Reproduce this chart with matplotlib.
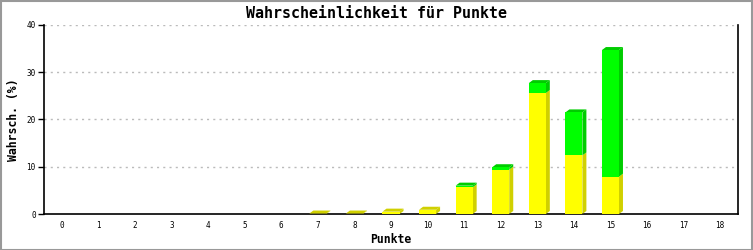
import matplotlib
matplotlib.use('Agg')
import matplotlib.pyplot as plt
from matplotlib.patches import Polygon, Rectangle
import numpy as np

# data
punkte = list(range(19))
gelb = [0, 0, 0, 0, 0, 0, 0, 0.1, 0.1, 0.5, 0.9, 5.65, 9.4, 25.6, 12.4, 7.9, 0, 0, 0]
gruen = [0, 0, 0, 0, 0, 0, 0, 0, 0, 0, 0, 0.35, 0.5, 2.1, 9.1, 26.8, 0, 0, 0]

title = "Wahrscheinlichkeit für Punkte"
xlabel = "Punkte"
ylabel = "Wahrsch. (%)"
yticks = [0, 10, 20, 30, 40]

plt.rcParams['font.family'] = ['DejaVu Sans Mono']
plt.rcParams['lines.scale_dashes'] = False

W, H = 753, 250
fig = plt.figure(figsize=(W / 100, H / 100), dpi=100)
left, right, bottom, top = 43.5, 738.5, 214, 25
ax = fig.add_axes([left / W, (H - bottom) / H, (right - left) / W, (bottom - top) / H])
ax.set_xlim(-0.5, 18.5)
ax.set_ylim(0, 40)

# pixel offsets of the 3d effect converted to data units
px_x = (right - left) / 19.0
px_y = (bottom - top) / 40.0
dx = 4 / px_x
dy = 3 / px_y
bw = 17 / px_x

colors = [("#ffff00", "#d0d000"), ("#00ff00", "#00cc00")]

for i, x in enumerate(punkte):
    segs = [gelb[i], gruen[i]]
    if sum(segs) <= 0:
        continue
    x0 = x - bw / 2
    x1 = x + bw / 2
    base = 0
    last = max(k for k, v in enumerate(segs) if v > 0)
    for k, v in enumerate(segs):
        if v <= 0:
            continue
        face, dark = colors[k]
        t = base + v
        ax.add_patch(Polygon([(x1, base), (x1 + dx, base + dy), (x1 + dx, t + dy), (x1, t)],
                             closed=True, facecolor=dark, edgecolor='none', zorder=3))
        ax.add_patch(Rectangle((x0, base), bw, v, facecolor=face, edgecolor='none', zorder=4))
        if k == last:
            ax.add_patch(Polygon([(x0, t), (x0 + dx, t + dy), (x1 + dx, t + dy), (x1, t)],
                                 closed=True, facecolor=dark, edgecolor='none', zorder=3))
        base = t

for yv in yticks[1:]:
    ax.axhline(yv, color="#bbbbbb", lw=1, dashes=(1.5, 3), zorder=1)

ax.set_xticks(punkte)
ax.set_xticklabels([str(p) for p in punkte])
ax.set_yticks(yticks)
ax.tick_params(axis='x', length=0, pad=5, labelsize=5.5)
ax.tick_params(axis='y', length=4, width=1, pad=1.5, labelsize=5.5)
for s in ['left', 'bottom', 'right']:
    ax.spines[s].set_linewidth(1.2)
ax.spines['top'].set_visible(False)

ax.set_xlabel(xlabel, fontsize=8.3, fontweight='bold', labelpad=2)
ax.set_ylabel(ylabel, fontsize=8.3, fontweight='bold', labelpad=5)
fig.text(376 / W, 1 - 13 / H, title, ha='center', va='center', fontsize=10.8, fontweight='bold')

# gray frame round the whole picture
fig.patches.append(Rectangle((0.5 / W, 0.5 / H), 1 - 1.5 / W, 1 - 1.5 / H, transform=fig.transFigure,
                             fill=False, edgecolor="#999999", lw=1.5))

fig.savefig("out.png", dpi=100)
